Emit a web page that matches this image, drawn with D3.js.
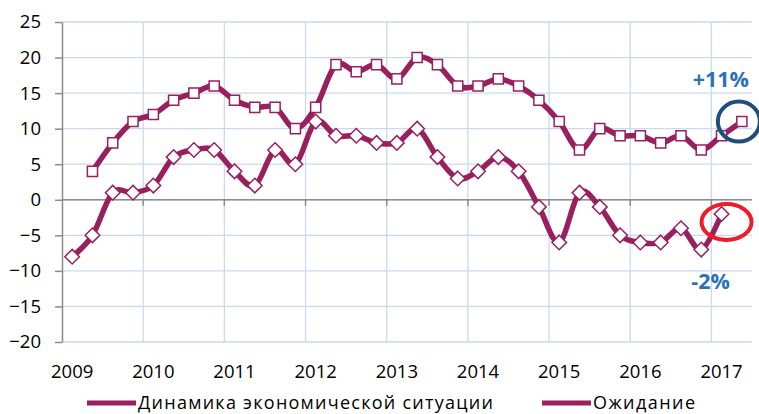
<!DOCTYPE html>
<html>
<head>
<meta charset="utf-8">
<script src="https://cdn.jsdelivr.net/npm/d3@7"></script>
<style>
  body { margin: 0; background: #fff; }
  svg { display: block; font-family: "Open Sans", sans-serif; }
</style>
</head>
<body>
<div id="chart"></div>
<script>
// quarterly survey, 2009 Q1 .. 2017 Q2
const years = [2009, 2010, 2011, 2012, 2013, 2014, 2015, 2016, 2017];
const quarters = years.flatMap(y => [1, 2, 3, 4].map(q => y + " Q" + q)).slice(0, 34);

const dinamika = [-8, -5, 1, 1, 2, 6, 7, 7, 4, 2, 7, 5, 11, 9, 9, 8, 8, 10, 6, 3, 4, 6, 4, -1,
  -6, 1, -1, -5, -6, -6, -4, -7, -2, null];
const ozhidanie = [null, 4, 8, 11, 12, 14, 15, 16, 14, 13, 13, 10, 13, 19, 18, 19, 17, 20, 19, 16, 16, 17,
  16, 14, 11, 7, 10, 9, 9, 8, 9, 7, 9, 11];

const yTicks = [-20, -15, -10, -5, 0, 5, 10, 15, 20, 25];
const seriesNames = ["Динамика экономической ситуации", "Ожидание"];
const notes = [{ text: "+11%", series: 1, idx: 33 }, { text: "-2%", series: 0, idx: 32 }];

const width = 759, height = 414;
const margin = { top: 22, right: 7, bottom: 72, left: 62 };
const lineColor = "#98205f";

const svg = d3.select("#chart").append("svg")
  .attr("width", width)
  .attr("height", height);

const x = d3.scaleBand()
  .domain(quarters)
  .range([margin.left, width - margin.right]);

const y = d3.scaleLinear()
  .domain([-20, 25])
  .range([height - margin.bottom, margin.top]);

const cx = i => x(quarters[i]) + x.bandwidth() / 2;

// grid
const grid = svg.append("g")
  .attr("stroke", "#c9daf0")
  .attr("stroke-width", 1.3);

grid.selectAll(".h")
  .data(yTicks)
  .join("line")
  .attr("x1", margin.left)
  .attr("x2", width - margin.right)
  .attr("y1", d => y(d))
  .attr("y2", d => y(d));

grid.selectAll(".v")
  .data(years.slice(1))
  .join("line")
  .attr("x1", d => x(d + " Q1"))
  .attr("x2", d => x(d + " Q1"))
  .attr("y1", y(25))
  .attr("y2", y(-20));

// y axis
const yAxis = svg.append("g")
  .attr("transform", `translate(${margin.left},0)`)
  .call(d3.axisLeft(y).tickValues(yTicks).tickSize(7).tickPadding(14).tickSizeOuter(0));
yAxis.selectAll("path, line").attr("stroke", "#8c8c8c").attr("stroke-width", 1.5);
yAxis.selectAll("text")
  .attr("font-size", 18.5)
  .attr("font-family", "Open Sans, sans-serif")
  .attr("fill", "#000");

// x axis sits at zero
const xg = svg.append("g");
xg.append("line")
  .attr("x1", margin.left)
  .attr("x2", width - margin.right)
  .attr("y1", y(0))
  .attr("y2", y(0))
  .attr("stroke", "#8c8c8c")
  .attr("stroke-width", 1.5);
xg.selectAll(".tick")
  .data(years.slice(1))
  .join("line")
  .attr("x1", d => x(d + " Q1"))
  .attr("x2", d => x(d + " Q1"))
  .attr("y1", y(0))
  .attr("y2", y(0) + 6)
  .attr("stroke", "#8c8c8c")
  .attr("stroke-width", 1.5);
xg.selectAll("text")
  .data(years)
  .join("text")
  .attr("x", d => x(d + " Q1") + x.bandwidth() / 2)
  .attr("y", 378)
  .attr("text-anchor", "middle")
  .attr("font-size", 18.5)
  .text(d => d);

// lines
const line = d3.line()
  .defined(d => d.v !== null)
  .x(d => cx(d.i))
  .y(d => y(d.v))
  .curve(d3.curveCatmullRom.alpha(0));

const series = [dinamika, ozhidanie].map((arr, s) => ({
  s,
  points: arr.map((v, i) => ({ v, i }))
}));

const diamond = d3.symbol().type(d3.symbolDiamond2).size(135);
const square = d3.symbol().type(d3.symbolSquare2).size(130);

series.forEach(sr => {
  svg.append("path")
    .attr("d", line(sr.points))
    .attr("fill", "none")
    .attr("stroke", lineColor)
    .attr("stroke-width", 5.5)
    .attr("stroke-linejoin", "round")
    .attr("stroke-linecap", "round");

  svg.append("g")
    .selectAll("path")
    .data(sr.points.filter(d => d.v !== null))
    .join("path")
    .attr("transform", d => `translate(${cx(d.i)},${y(d.v)})`)
    .attr("d", sr.s === 0 ? diamond : square)
    .attr("fill", "#fff")
    .attr("stroke", lineColor)
    .attr("stroke-width", 1.5);
});

// highlight rings
const lastO = ozhidanie[33], lastD = dinamika[32];
svg.append("ellipse")
  .attr("cx", cx(33) - 3)
  .attr("cy", y(lastO))
  .attr("rx", 21)
  .attr("ry", 20)
  .attr("fill", "none")
  .attr("stroke", "#1f4e7d")
  .attr("stroke-width", 4);

svg.append("ellipse")
  .attr("cx", cx(32) + 5)
  .attr("cy", y(lastD) + 8)
  .attr("rx", 25)
  .attr("ry", 18)
  .attr("fill", "none")
  .attr("stroke", "#ee1c25")
  .attr("stroke-width", 4);

// labels
svg.selectAll(".note")
  .data(notes)
  .join("text")
  .attr("x", d => d.series === 1 ? cx(d.idx) - 21 : cx(d.idx) - 11)
  .attr("y", d => d.series === 1 ? 87 : 289)
  .attr("text-anchor", "middle")
  .attr("font-size", 21.5)
  .attr("font-weight", "bold")
  .attr("fill", "#2a72b8")
  .text(d => d.text);

// legend
const legend = [
  { name: seriesNames[0], x0: 87, mark: diamond, len: 355 },
  { name: seriesNames[1], x0: 542, mark: square, len: 102 }
];
const lg = svg.append("g").selectAll("g")
  .data(legend)
  .join("g")
  .attr("transform", d => `translate(${d.x0},403)`);
lg.append("line")
  .attr("x1", 0).attr("x2", 49)
  .attr("stroke", lineColor)
  .attr("stroke-width", 5);
lg.append("path")
  .attr("transform", "translate(24.5,0)")
  .attr("d", d => d.mark)
  .attr("fill", "#fff")
  .attr("stroke", lineColor)
  .attr("stroke-width", 1.5);
lg.append("text")
  .attr("x", 51)
  .attr("y", 6)
  .attr("font-size", 18)
  .attr("textLength", d => d.len)
  .attr("lengthAdjust", "spacing")
  .text(d => d.name);
</script>
</body>
</html>
